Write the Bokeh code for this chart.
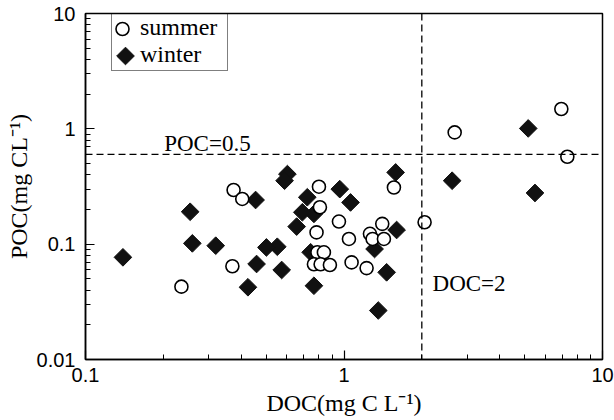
from bokeh.plotting import figure
from bokeh.models import (FixedTicker, Span, Label, Legend, LegendItem, Range1d,
                          LinearScale)
from bokeh.embed import file_html
from bokeh.resources import INLINE
import math

# ---- data ----
summer_doc = [6.93, 2.68, 7.31, 2.05, 1.56, 1.406, 1.26, 1.29, 1.427, 1.223,
              1.07, 1.045, 0.956, 0.807, 0.80, 0.783, 0.789, 0.836, 0.765,
              0.812, 0.882, 0.374, 0.404, 0.370, 0.235]
summer_poc = [1.485, 0.931, 0.573, 0.155, 0.31, 0.150, 0.123, 0.111, 0.111, 0.062,
              0.0695, 0.111, 0.157, 0.209, 0.315, 0.1265, 0.085, 0.085, 0.067,
              0.067, 0.066, 0.295, 0.2466, 0.0643, 0.0428]

winter_doc = [5.16, 5.48, 2.62, 1.584, 1.598, 1.462, 1.357, 1.313, 1.06, 0.963,
              0.765, 0.743, 0.765, 0.721, 0.690, 0.656, 0.604, 0.589, 0.574,
              0.552, 0.501, 0.459, 0.455, 0.425, 0.319, 0.259, 0.254, 0.1396]
winter_poc = [1.008, 0.278, 0.355, 0.419, 0.1327, 0.057, 0.0266, 0.0908, 0.230, 0.30,
              0.0436, 0.085, 0.183, 0.255, 0.189, 0.142, 0.405, 0.355, 0.0597,
              0.095, 0.0937, 0.0673, 0.2415, 0.0423, 0.097, 0.1016, 0.191, 0.0769]

series_names = ["summer", "winter"]

x_ticks = [0.1, 1, 10]
x_tick_labels = ["0.1", "1", "10"]
y_ticks = [0.01, 0.1, 1, 10]
y_tick_labels = ["0.01", "0.1", "1", "10"]

poc_threshold = 0.6
doc_threshold = 2.0

SERIF = "Liberation Serif"
SANS = "Liberation Sans"

FRAME_W, FRAME_H = 517, 346

p = figure(width=614, height=420, x_axis_type="log", y_axis_type="log",
           x_range=Range1d(0.1, 10), y_range=Range1d(0.01, 10),
           output_backend="svg", toolbar_location=None,
           min_border_left=85, min_border_right=12,
           min_border_top=13, min_border_bottom=61)

# pixel-space ranges for legend keys
p.extra_x_ranges = {"px": Range1d(0, FRAME_W)}
p.extra_y_ranges = {"px": Range1d(0, FRAME_H)}
p.extra_x_scales = {"px": LinearScale()}
p.extra_y_scales = {"px": LinearScale()}

p.xgrid.visible = False
p.ygrid.visible = False
p.background_fill_color = "white"
p.border_fill_color = "white"
p.outline_line_color = "black"
p.outline_line_width = 1.5
p.outline_line_alpha = 1.0

def minors(lo_exp, hi_exp):
    out = []
    for e in range(lo_exp, hi_exp):
        for m in range(2, 10):
            out.append(m * 10.0 ** e)
    return out

p.xaxis.ticker = FixedTicker(ticks=x_ticks, minor_ticks=minors(-1, 1))
p.yaxis.ticker = FixedTicker(ticks=y_ticks, minor_ticks=minors(-2, 1))
p.xaxis.major_label_overrides = {t: l for t, l in zip(x_ticks, x_tick_labels)}
p.yaxis.major_label_overrides = {t: l for t, l in zip(y_ticks, y_tick_labels)}

for ax in (p.xaxis, p.yaxis):
    ax.axis_line_color = "black"
    ax.axis_line_width = 1.5
    ax.major_tick_in = 9
    ax.major_tick_out = 0
    ax.minor_tick_in = 5
    ax.minor_tick_out = 0
    ax.major_tick_line_color = "black"
    ax.minor_tick_line_color = "black"
    ax.major_tick_line_width = 1.2
    ax.minor_tick_line_width = 1.0
    ax.major_label_text_font = SANS
    ax.major_label_text_font_size = "20px"
    ax.major_label_text_color = "black"
    ax.axis_label_text_font = SERIF
    ax.axis_label_text_font_size = "24px"
    ax.axis_label_text_font_style = "normal"
    ax.axis_label_text_color = "black"

p.xaxis.axis_label = "DOC(mg C L\u207b\u00b9)"
p.yaxis.axis_label = "POC(mg CL\u207b\u00b9)"
p.xaxis.major_label_standoff = 8
p.xaxis.axis_label_standoff = 5
p.yaxis.major_label_standoff = 10
p.yaxis.axis_label_standoff = 2

# threshold lines
p.add_layout(Span(location=poc_threshold, dimension="width", line_color="black",
                  line_width=1.3, line_dash="7 4"))
p.add_layout(Span(location=doc_threshold, dimension="height", line_color="black",
                  line_width=1.3, line_dash="7 4"))

# data
WINTER_STYLE = dict(marker="square", size=12.5, angle=math.pi / 4,
                    fill_color="#111111", line_color="#111111", line_width=1)
SUMMER_STYLE = dict(marker="circle", size=13, fill_color="white",
                    line_color="black", line_width=1.6)

r_w = p.scatter(winter_doc, winter_poc, **WINTER_STYLE)
r_s = p.scatter(summer_doc, summer_poc, **SUMMER_STYLE)

# annotations
p.add_layout(Label(x=0.2016, y=0.743, text="POC=0.5", text_font=SERIF,
                   text_font_size="23px", text_color="black", text_baseline="alphabetic"))
p.add_layout(Label(x=2.20, y=0.0455, text="DOC=2", text_font=SERIF,
                   text_font_size="23px", text_color="black", text_baseline="alphabetic"))

# legend: Bokeh legend for box + labels (its own key glyphs are transparent),
# rotated-square / circle keys drawn in pixel space at the key slots
d_s = p.scatter([], [], marker="circle", fill_alpha=0, line_alpha=0)
d_w = p.scatter([], [], marker="square", fill_alpha=0, line_alpha=0)

LEG_PAD, LEG_ROW = 2, 27
legend_h = 2 * LEG_PAD + 2 * LEG_ROW
legend = Legend(items=[LegendItem(label=series_names[0], renderers=[d_s]),
                       LegendItem(label=series_names[1], renderers=[d_w])],
                location=(26, FRAME_H - legend_h))
legend.label_text_font = SERIF
legend.label_text_font_size = "24px"
legend.label_text_color = "black"
legend.glyph_width = 24
legend.glyph_height = LEG_ROW
legend.label_height = LEG_ROW
legend.label_width = 85
legend.label_standoff = 2
legend.padding = LEG_PAD
legend.spacing = 0
legend.margin = 0
legend.border_line_color = "black"
legend.border_line_width = 1.2
legend.background_fill_alpha = 0.0
p.add_layout(legend)

key_x_s, key_y_s = 37, FRAME_H - 15.5
key_x_w, key_y_w = 40, FRAME_H - 42.5
p.scatter([key_x_s], [key_y_s], x_range_name="px", y_range_name="px", **SUMMER_STYLE)
p.scatter([key_x_w], [key_y_w], x_range_name="px", y_range_name="px", **WINTER_STYLE)

open("out.html", "w").write(file_html(p, INLINE))
